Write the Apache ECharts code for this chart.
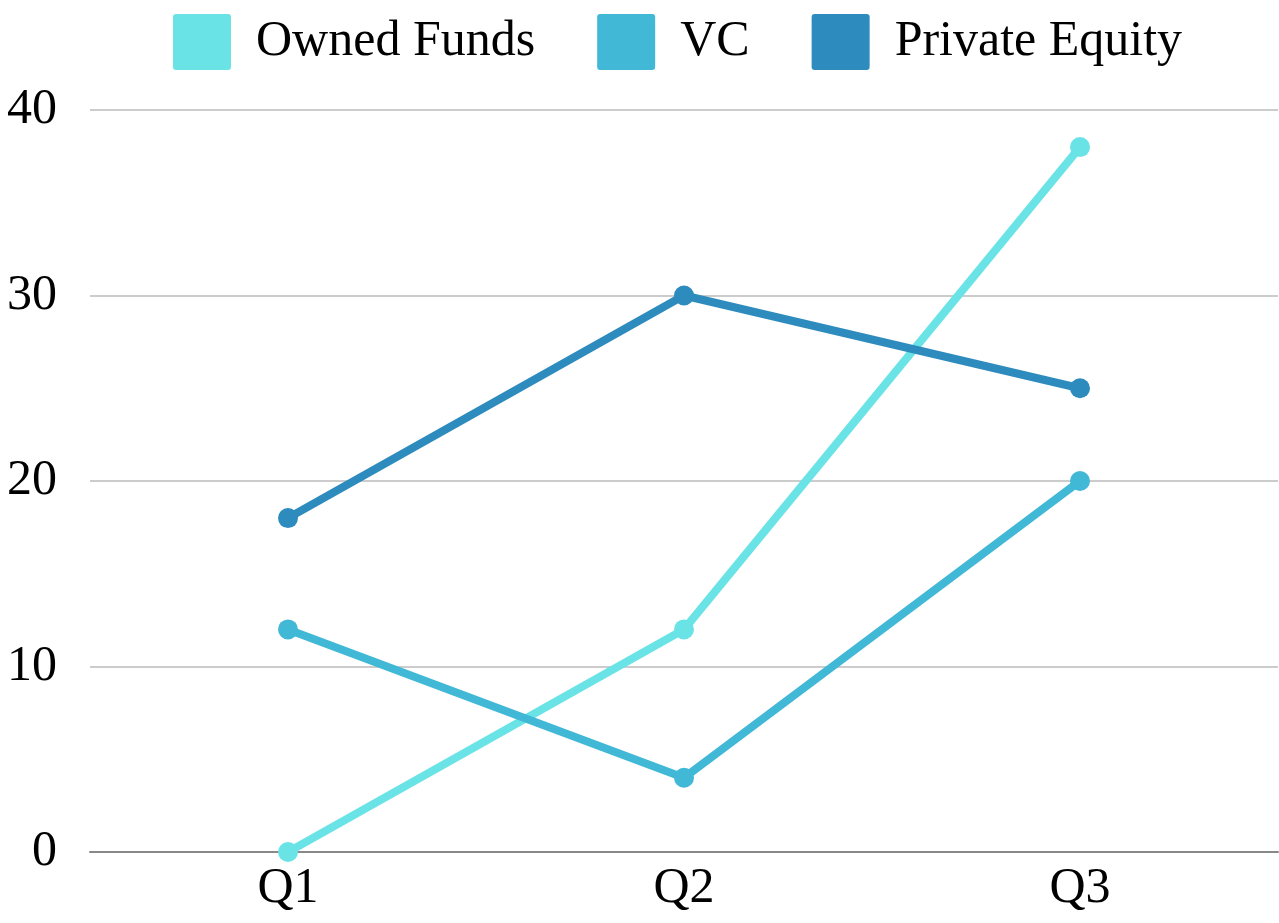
<!DOCTYPE html>
<html>
<head>
<meta charset="utf-8">
<script src="https://cdn.jsdelivr.net/npm/echarts@6/dist/echarts.min.js"></script>
<style>
  html, body { margin: 0; padding: 0; background: #fff; }
  #chart { width: 1279px; height: 923px; }
</style>
</head>
<body>
<div id="chart"></div>
<script>
const quarters = ['Q1', 'Q2', 'Q3']
const ownedFunds = [0, 12, 38]
const vc = [12, 4, 20]
const privateEquity = [18, 30, 25]
const seriesNames = ['Owned Funds', 'VC', 'Private Equity']
const colors = ['#6ae3e6', '#41b8d5', '#2e8bbd']

const font = 'Liberation Serif, Times New Roman, serif'
// legend swatch: rectangle with slightly rounded corners
const swatch = 'path://M3,0 H55 Q58,0 58,3 V53 Q58,56 55,56 H3 Q0,56 0,53 V3 Q0,0 3,0 Z'

const chart = echarts.init(document.getElementById('chart'))

function makeSeries(name, data, color) {
  return {
    name: name,
    type: 'line',
    data: data,
    symbol: 'circle',
    symbolSize: 20,
    itemStyle: { color: color },
    lineStyle: { color: color, width: 8 },
    animation: false
  }
}

chart.setOption({
  color: colors,
  legend: {
    left: 173,
    top: 14,
    padding: 0,
    itemWidth: 58,
    itemHeight: 56,
    itemGap: 62,
    icon: swatch,
    textStyle: {
      fontFamily: font,
      fontSize: 50,
      color: '#000',
      padding: [0, 0, 0, 20]
    },
    data: seriesNames
  },
  grid: {
    left: 90,
    right: 1,
    top: 110,
    bottom: 71
  },
  xAxis: {
    type: 'category',
    data: quarters,
    boundaryGap: true,
    axisLine: { lineStyle: { color: '#888', width: 2 } },
    axisTick: { show: false },
    axisLabel: {
      fontFamily: font,
      fontSize: 50,
      color: '#000',
      margin: 12
    }
  },
  yAxis: {
    type: 'value',
    min: 0,
    max: 40,
    interval: 10,
    axisLabel: {
      fontFamily: font,
      fontSize: 50,
      color: '#000',
      margin: 33
    },
    splitLine: { lineStyle: { color: '#ccc', width: 2 } }
  },
  series: [
    makeSeries(seriesNames[0], ownedFunds, colors[0]),
    makeSeries(seriesNames[1], vc, colors[1]),
    makeSeries(seriesNames[2], privateEquity, colors[2])
  ]
})
</script>
</body>
</html>
